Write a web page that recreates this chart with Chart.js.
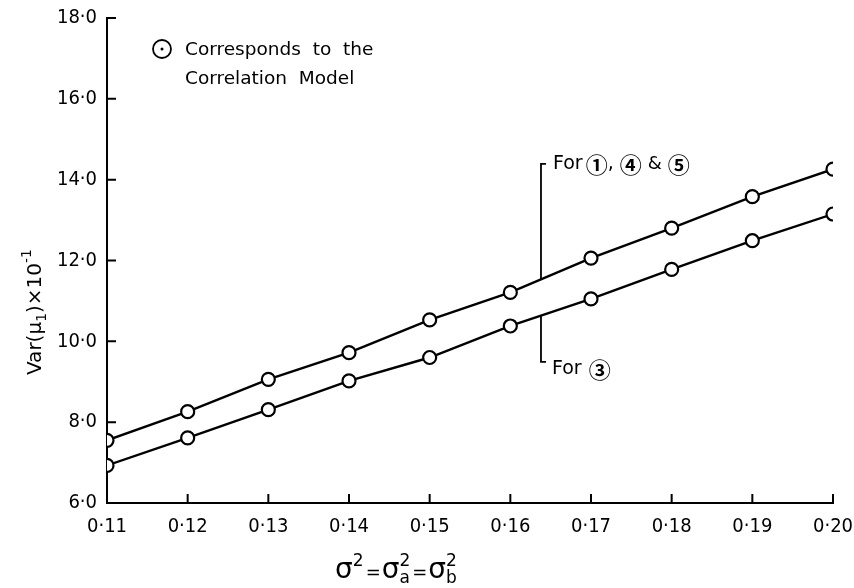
<!DOCTYPE html>
<html>
<head>
<meta charset="utf-8">
<script src="https://cdn.jsdelivr.net/npm/chart.js@4.4.0/dist/chart.umd.min.js"></script>
<style>
  html, body { margin: 0; padding: 0; background: #fff; }
  #wrap { width: 854px; height: 588px; }
</style>
</head>
<body>
<div id="wrap"><canvas id="chart" width="854" height="588"></canvas></div>
<script>
// Values
const sigmaValues = [0.11, 0.12, 0.13, 0.14, 0.15, 0.16, 0.17, 0.18, 0.19, 0.20];
const varFor145 = [7.55, 8.26, 9.06, 9.72, 10.53, 11.21, 12.06, 12.80, 13.58, 14.26];
const varFor3 = [6.93, 7.61, 8.31, 9.02, 9.60, 10.38, 11.05, 11.78, 12.49, 13.15];
const xTickValues = [0.11, 0.12, 0.13, 0.14, 0.15, 0.16, 0.17, 0.18, 0.19, 0.20];
const yTickValues = [6, 8, 10, 12, 14, 16, 18];

const FONT = '"DejaVu Sans", "Noto Sans", sans-serif';
const NARROW = '"Liberation Sans Narrow", "DejaVu Sans Condensed", "DejaVu Sans", sans-serif';
const CIRCLED = '"Noto Sans CJK JP", "DejaVu Sans", sans-serif';
const INK = '#000';

function toPoints(ys) {
  return sigmaValues.map((x, i) => ({ x: x, y: ys[i] }));
}

// value of a series at x, by straight line between its points
function lineAt(ys, x) {
  for (let i = 0; i < sigmaValues.length - 1; i++) {
    const x0 = sigmaValues[i], x1 = sigmaValues[i + 1];
    if (x >= x0 && x <= x1) {
      return ys[i] + (ys[i + 1] - ys[i]) * (x - x0) / (x1 - x0);
    }
  }
  return ys[ys.length - 1];
}

// text with sub / superscripts, centred on cx
function richText(ctx, parts, cx, baseY) {
  let w = 0;
  parts.forEach(p => {
    ctx.font = p.size + 'px ' + (p.family || FONT);
    p.w = ctx.measureText(p.t).width + (p.gap || 0);
    if (!p.stack) w += p.w;
  });
  let x = cx - w / 2;
  ctx.textAlign = 'left';
  ctx.textBaseline = 'alphabetic';
  parts.forEach(p => {
    ctx.font = p.size + 'px ' + (p.family || FONT);
    ctx.fillText(p.t, x, baseY + (p.dy || 0));
    if (!p.stack) x += p.w;
  });
}

// pieces of text in different fonts, left aligned
function runText(ctx, parts, x, y) {
  ctx.textAlign = 'left';
  ctx.textBaseline = 'middle';
  parts.forEach(p => {
    ctx.font = (p.weight || '') + ' ' + p.size + 'px ' + p.family;
    ctx.fillText(p.t, x, y + (p.dy || 0));
    x += ctx.measureText(p.t).width + (p.gap || 0);
  });
}

const decorations = {
  id: 'decorations',
  afterDraw(chart) {
    const ctx = chart.ctx;
    const xs = chart.scales.x, ys = chart.scales.y;
    const area = chart.chartArea;
    ctx.save();
    ctx.strokeStyle = INK;
    ctx.fillStyle = INK;
    ctx.lineWidth = 2;

    // inward tick marks
    ctx.beginPath();
    xTickValues.forEach(v => {
      const px = xs.getPixelForValue(v);
      ctx.moveTo(px, area.bottom);
      ctx.lineTo(px, area.bottom - 9);
    });
    yTickValues.forEach(v => {
      const py = ys.getPixelForValue(v);
      ctx.moveTo(area.left, py);
      ctx.lineTo(area.left + 9, py);
    });
    ctx.stroke();

    // brackets to the two lines
    const bx = 0.1638;
    const px = xs.getPixelForValue(bx);
    ctx.lineWidth = 1.8;
    ctx.beginPath();
    const upTop = ys.getPixelForValue(14.39);
    ctx.moveTo(px, ys.getPixelForValue(lineAt(varFor145, bx)));
    ctx.lineTo(px, upTop);
    ctx.lineTo(px + 5, upTop);
    const lowBot = ys.getPixelForValue(9.49);
    ctx.moveTo(px, ys.getPixelForValue(lineAt(varFor3, bx)));
    ctx.lineTo(px, lowBot);
    ctx.lineTo(px + 5, lowBot);
    ctx.stroke();

    runText(ctx, [
      { t: 'For', size: 19, family: FONT, gap: 3 },
      { t: '\u2460', size: 22, family: CIRCLED, weight: 'bold', dy: 1 },
      { t: ',', size: 19, family: FONT, gap: 6 },
      { t: '\u2463', size: 22, family: CIRCLED, weight: 'bold', dy: 1, gap: 6 },
      { t: '&', size: 18, family: FONT, gap: 6 },
      { t: '\u2464', size: 22, family: CIRCLED, weight: 'bold', dy: 1 }
    ], px + 12, upTop);
    runText(ctx, [
      { t: 'For', size: 19, family: FONT, gap: 7 },
      { t: '\u2462', size: 22, family: CIRCLED, weight: 'bold', dy: 1 }
    ], px + 11, lowBot + 7);

    // key
    ctx.lineWidth = 1.8;
    ctx.beginPath();
    ctx.arc(162, 49, 9, 0, Math.PI * 2);
    ctx.stroke();
    ctx.beginPath();
    ctx.arc(162, 49, 1.5, 0, Math.PI * 2);
    ctx.fill();
    ctx.font = '18.5px ' + FONT;
    ctx.textAlign = 'left';
    ctx.textBaseline = 'middle';
    ctx.fillText('Corresponds  to  the', 185, 50);
    ctx.fillText('Correlation  Model', 185, 79);

    // x axis title
    richText(ctx, [
      { t: '\u03c3', size: 28 },
      { t: '2', size: 17, dy: -12, gap: 2 },
      { t: '=', size: 18, gap: 1 },
      { t: '\u03c3', size: 28 },
      { t: 'a', size: 17, dy: 5, stack: true },
      { t: '2', size: 17, dy: -12, gap: 2 },
      { t: '=', size: 18, gap: 1 },
      { t: '\u03c3', size: 28 },
      { t: 'b', size: 17, dy: 5, stack: true },
      { t: '2', size: 17, dy: -12 }
    ], 396, 578);

    // y axis title
    ctx.translate(33, 312);
    ctx.rotate(-Math.PI / 2);
    richText(ctx, [
      { t: 'Var(\u03bc', size: 20 },
      { t: '1', size: 14, dy: 5 },
      { t: ')\u00d710', size: 20 },
      { t: '-1', size: 14, dy: -10 }
    ], 0, 8);
    ctx.restore();
  }
};

function lineSet(label, ys) {
  return {
    label: label,
    data: toPoints(ys),
    borderColor: INK,
    borderWidth: 2.4,
    pointRadius: 6.5,
    pointBorderWidth: 2.2,
    pointBackgroundColor: '#fff',
    pointBorderColor: INK,
    tension: 0
  };
}

new Chart(document.getElementById('chart'), {
  type: 'line',
  data: {
    datasets: [
      lineSet('For 1, 4 & 5', varFor145),
      lineSet('For 3', varFor3)
    ]
  },
  options: {
    responsive: false,
    animation: false,
    devicePixelRatio: 1,
    layout: { padding: { top: 18, right: 21, left: 0, bottom: 0 } },
    plugins: {
      legend: { display: false },
      tooltip: { enabled: false }
    },
    scales: {
      x: {
        type: 'linear',
        min: 0.11,
        max: 0.20,
        afterBuildTicks: s => { s.ticks = xTickValues.map(v => ({ value: v })); },
        afterFit: s => { s.height = 85; s.paddingLeft = 0; s.paddingRight = 0; },
        grid: { display: false, drawTicks: false },
        border: { display: true, color: INK, width: 2 },
        ticks: {
          autoSkip: false,
          maxRotation: 0,
          padding: 12,
          color: INK,
          font: { family: NARROW, size: 20 },
          callback: v => v.toFixed(2).replace('.', '\u00b7')
        }
      },
      y: {
        min: 6,
        max: 18,
        afterBuildTicks: s => { s.ticks = yTickValues.map(v => ({ value: v })); },
        afterFit: s => { s.width = 107; s.paddingTop = 0; s.paddingBottom = 0; },
        grid: { display: false, drawTicks: false },
        border: { display: true, color: INK, width: 2 },
        ticks: {
          padding: 10,
          color: INK,
          font: { family: NARROW, size: 20 },
          callback: v => v.toFixed(1).replace('.', '\u00b7')
        }
      }
    }
  },
  plugins: [decorations]
});
</script>
</body>
</html>
